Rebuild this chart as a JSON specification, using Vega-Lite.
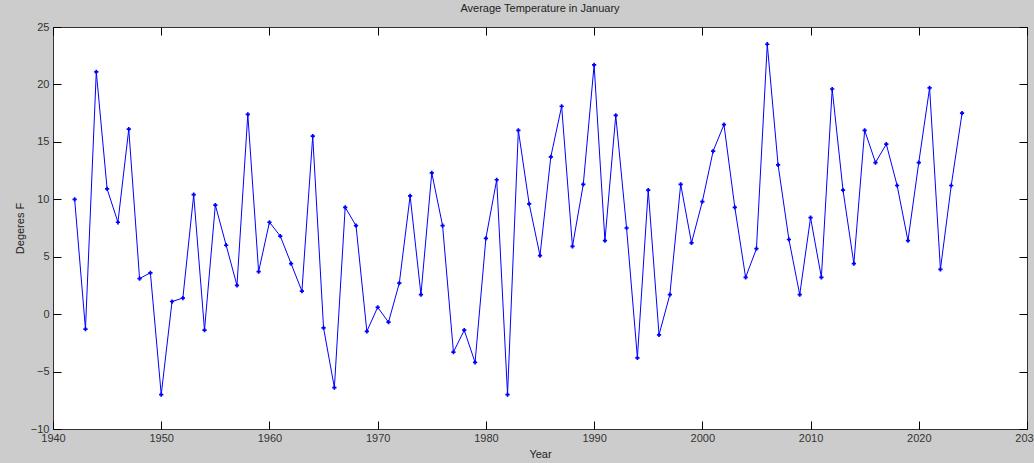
{
  "$schema": "https://vega.github.io/schema/vega-lite/v6.json",
  "width": 974,
  "height": 402,
  "autosize": {"type": "none"},
  "padding": {"left": 53, "top": 27, "right": 7, "bottom": 34},
  "background": "#cccccc",
  "title": {"text": "Average Temperature in January", "fontSize": 11, "fontWeight": "normal", "font": "Liberation Sans", "color": "#222222", "offset": 7, "anchor": "middle"},
  "config": {
    "view": {"fill": "white", "stroke": "#333333", "strokeWidth": 1},
    "axis": {"grid": false, "domain": false, "ticks": true, "tickColor": "#000000", "tickOpacity": 1, "tickWidth": 1, "tickSize": 8, "offset": -8, "labelFlush": false, "labelOverlap": false, "labelFont": "Liberation Sans", "labelFontSize": 11, "labelColor": "#333333", "titleFont": "Liberation Sans", "titleFontSize": 11, "titleFontWeight": "normal", "titleColor": "#222222"}
  },
  "data": {"values": [
    {"year": 1942, "temp": 10.0}, {"year": 1943, "temp": -1.3}, {"year": 1944, "temp": 21.1}, {"year": 1945, "temp": 10.9},
    {"year": 1946, "temp": 8.0}, {"year": 1947, "temp": 16.1}, {"year": 1948, "temp": 3.1}, {"year": 1949, "temp": 3.6},
    {"year": 1950, "temp": -7.0}, {"year": 1951, "temp": 1.1}, {"year": 1952, "temp": 1.4}, {"year": 1953, "temp": 10.4},
    {"year": 1954, "temp": -1.4}, {"year": 1955, "temp": 9.5}, {"year": 1956, "temp": 6.0}, {"year": 1957, "temp": 2.5},
    {"year": 1958, "temp": 17.4}, {"year": 1959, "temp": 3.7}, {"year": 1960, "temp": 8.0}, {"year": 1961, "temp": 6.8},
    {"year": 1962, "temp": 4.4}, {"year": 1963, "temp": 2.0}, {"year": 1964, "temp": 15.5}, {"year": 1965, "temp": -1.2},
    {"year": 1966, "temp": -6.4}, {"year": 1967, "temp": 9.3}, {"year": 1968, "temp": 7.7}, {"year": 1969, "temp": -1.5},
    {"year": 1970, "temp": 0.6}, {"year": 1971, "temp": -0.7}, {"year": 1972, "temp": 2.7}, {"year": 1973, "temp": 10.3},
    {"year": 1974, "temp": 1.7}, {"year": 1975, "temp": 12.3}, {"year": 1976, "temp": 7.7}, {"year": 1977, "temp": -3.3},
    {"year": 1978, "temp": -1.4}, {"year": 1979, "temp": -4.2}, {"year": 1980, "temp": 6.6}, {"year": 1981, "temp": 11.7},
    {"year": 1982, "temp": -7.0}, {"year": 1983, "temp": 16.0}, {"year": 1984, "temp": 9.6}, {"year": 1985, "temp": 5.1},
    {"year": 1986, "temp": 13.7}, {"year": 1987, "temp": 18.1}, {"year": 1988, "temp": 5.9}, {"year": 1989, "temp": 11.3},
    {"year": 1990, "temp": 21.7}, {"year": 1991, "temp": 6.4}, {"year": 1992, "temp": 17.3}, {"year": 1993, "temp": 7.5},
    {"year": 1994, "temp": -3.8}, {"year": 1995, "temp": 10.8}, {"year": 1996, "temp": -1.8}, {"year": 1997, "temp": 1.7},
    {"year": 1998, "temp": 11.3}, {"year": 1999, "temp": 6.2}, {"year": 2000, "temp": 9.8}, {"year": 2001, "temp": 14.2},
    {"year": 2002, "temp": 16.5}, {"year": 2003, "temp": 9.3}, {"year": 2004, "temp": 3.2}, {"year": 2005, "temp": 5.7},
    {"year": 2006, "temp": 23.5}, {"year": 2007, "temp": 13.0}, {"year": 2008, "temp": 6.5}, {"year": 2009, "temp": 1.7},
    {"year": 2010, "temp": 8.4}, {"year": 2011, "temp": 3.2}, {"year": 2012, "temp": 19.6}, {"year": 2013, "temp": 10.8},
    {"year": 2014, "temp": 4.4}, {"year": 2015, "temp": 16.0}, {"year": 2016, "temp": 13.2}, {"year": 2017, "temp": 14.8},
    {"year": 2018, "temp": 11.2}, {"year": 2019, "temp": 6.4}, {"year": 2020, "temp": 13.2}, {"year": 2021, "temp": 19.7},
    {"year": 2022, "temp": 3.9}, {"year": 2023, "temp": 11.2}, {"year": 2024, "temp": 17.5}
  ]},
  "layer": [
    {
      "mark": {"type": "line", "color": "#0000ff", "strokeWidth": 1, "point": {"shape": "cross", "size": 18, "color": "#0000ff", "filled": true}},
      "encoding": {
        "x": {"field": "year", "type": "quantitative", "scale": {"domain": [1940, 2030], "nice": false, "zero": false},
              "axis": {"orient": "bottom", "values": [1940, 1950, 1960, 1970, 1980, 1990, 2000, 2010, 2020, 2030], "format": "d", "title": "Year", "titlePadding": 5, "labelPadding": 3}},
        "y": {"field": "temp", "type": "quantitative", "scale": {"domain": [-10, 25], "nice": false, "zero": false},
              "axis": {"orient": "left", "values": [-10, -5, 0, 5, 10, 15, 20, 25], "title": "Degeres F", "titlePadding": 5, "labelPadding": 4}}
      }
    },
    {
      "mark": {"type": "line", "opacity": 0},
      "encoding": {
        "x": {"field": "year", "type": "quantitative", "scale": {"domain": [1940, 2030], "nice": false, "zero": false},
              "axis": {"orient": "top", "values": [1940, 1950, 1960, 1970, 1980, 1990, 2000, 2010, 2020, 2030], "labels": false, "title": null}},
        "y": {"field": "temp", "type": "quantitative", "scale": {"domain": [-10, 25], "nice": false, "zero": false},
              "axis": {"orient": "right", "values": [-10, -5, 0, 5, 10, 15, 20, 25], "labels": false, "title": null}}
      }
    }
  ],
  "resolve": {"axis": {"x": "independent", "y": "independent"}}
}
